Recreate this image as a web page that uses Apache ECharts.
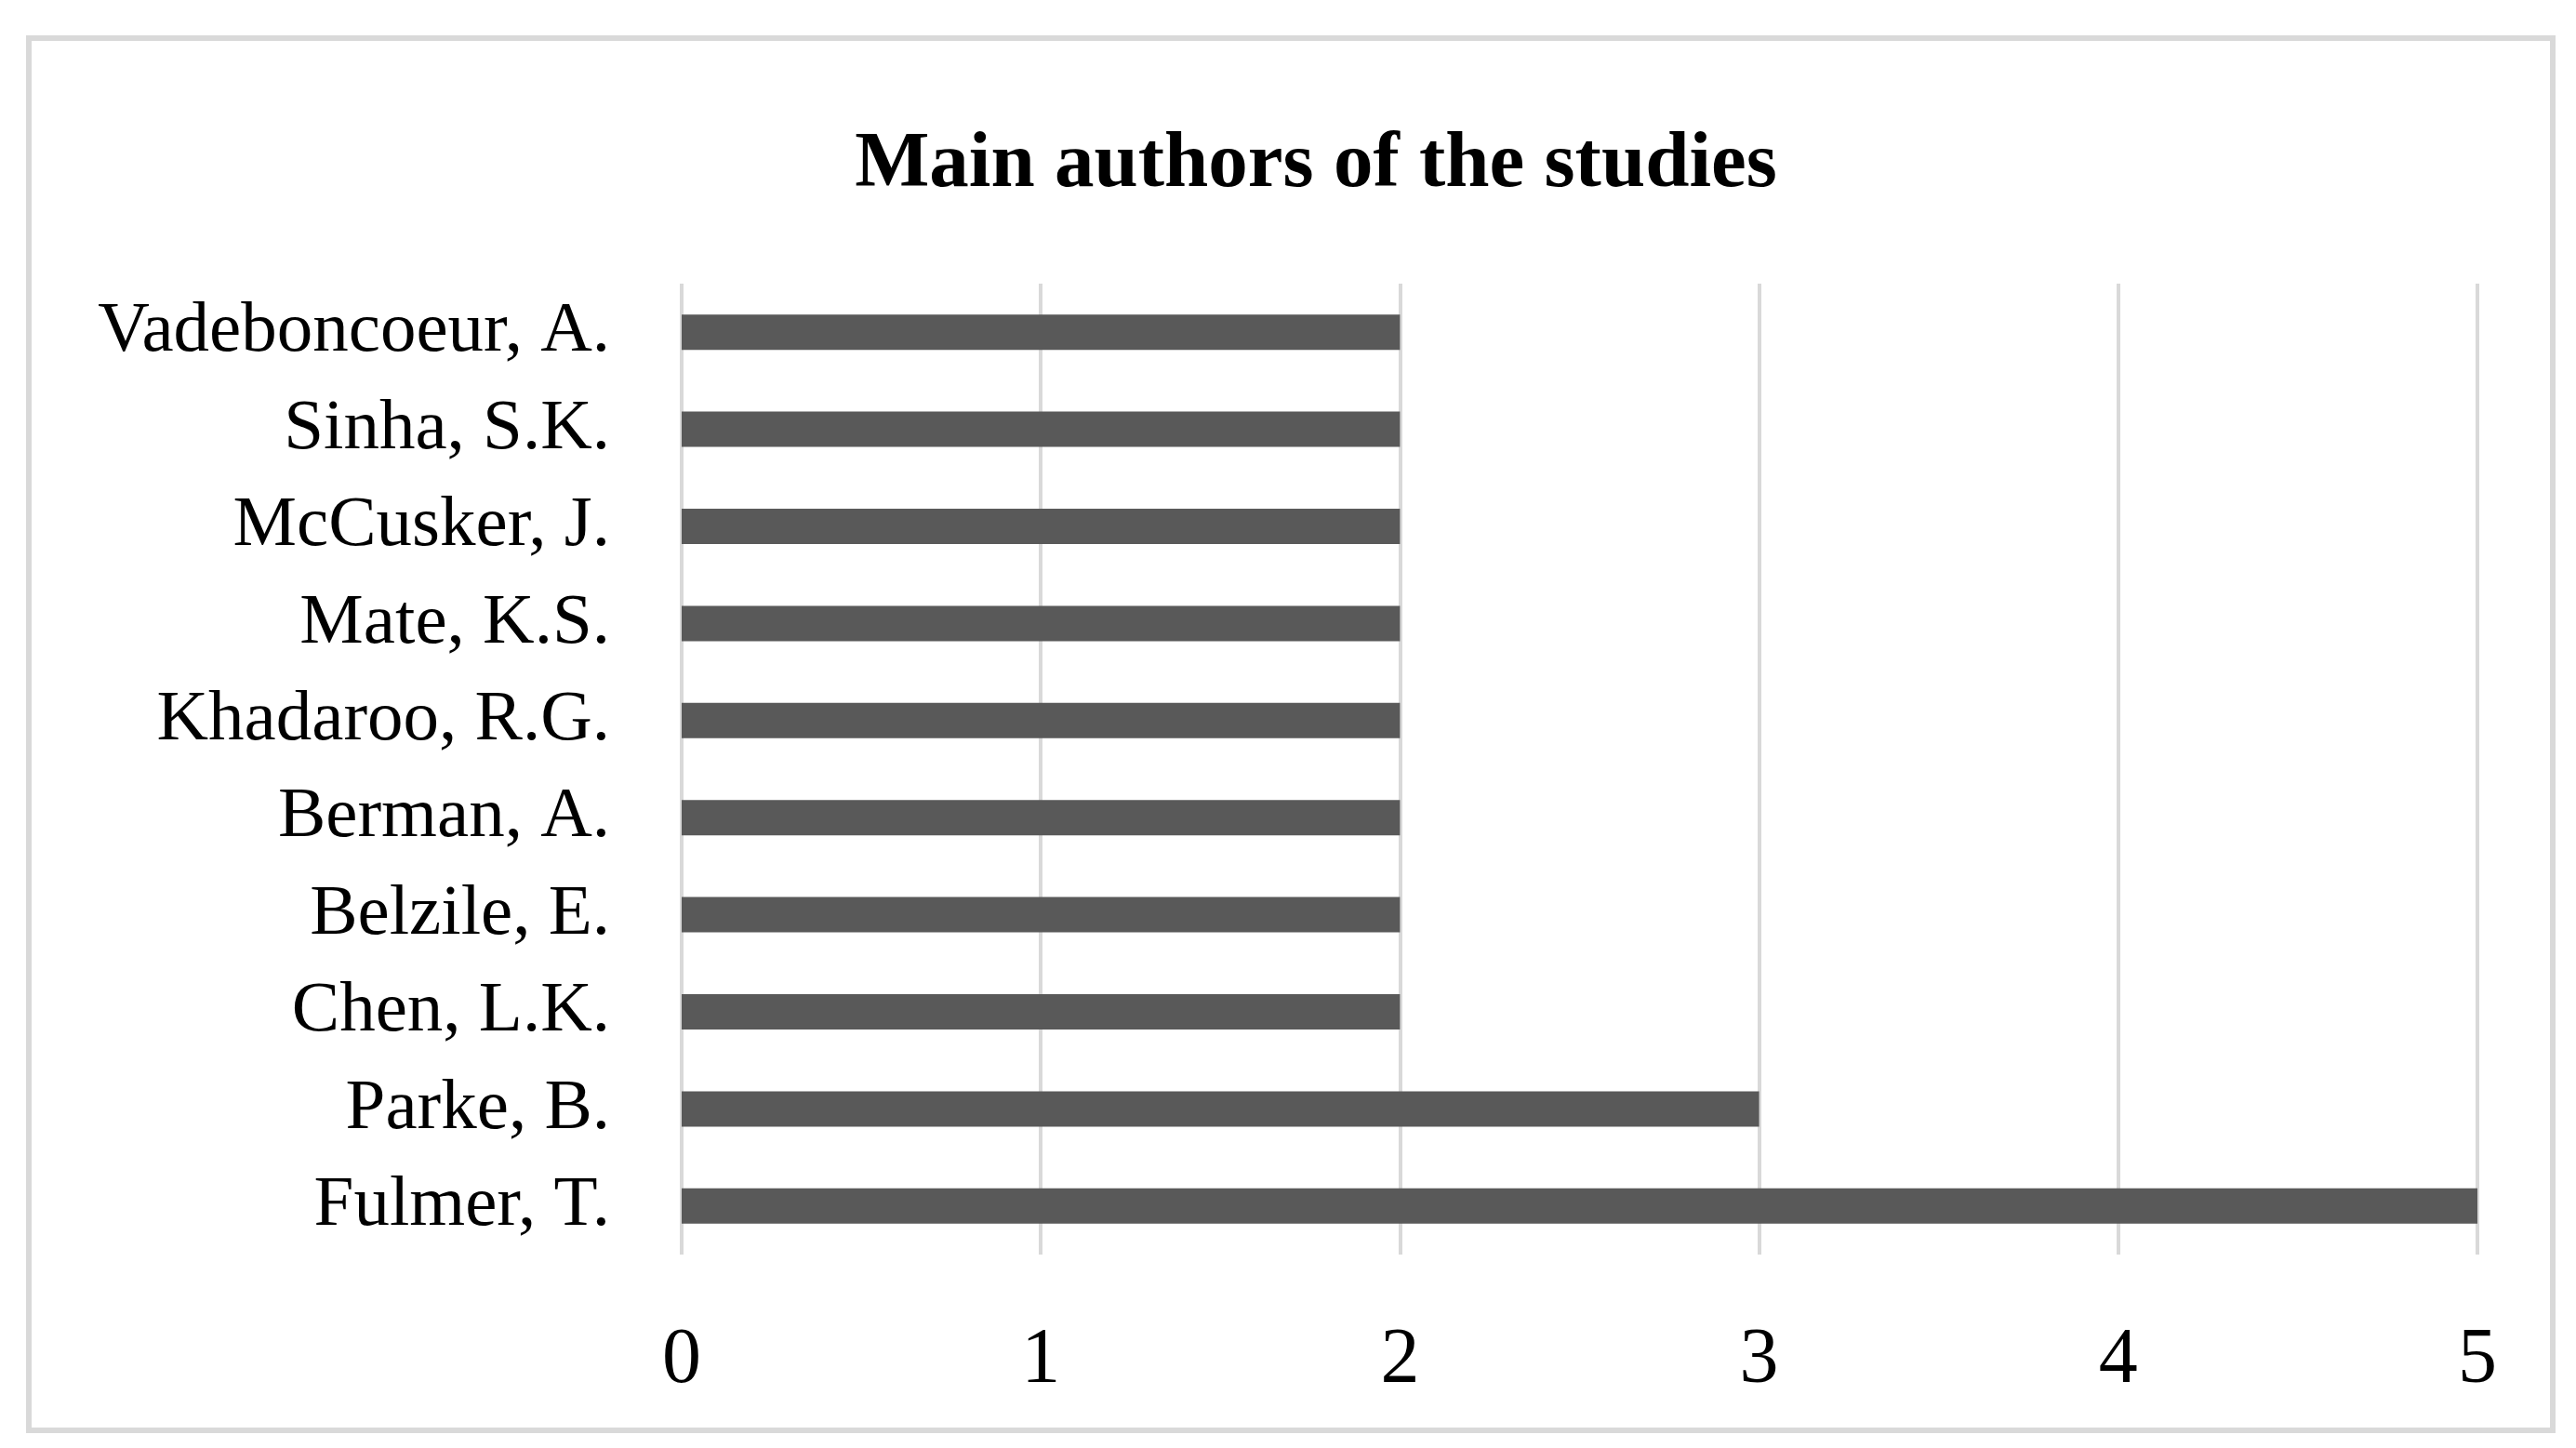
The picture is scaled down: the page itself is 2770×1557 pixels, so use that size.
<!DOCTYPE html>
<html>
<head>
<meta charset="utf-8">
<script src="https://cdn.jsdelivr.net/npm/echarts@6/dist/echarts.min.js"></script>
<style>
html,body{margin:0;padding:0;background:#fff;}
#chart{width:2770px;height:1557px;}
</style>
</head>
<body>
<div id="chart"></div>
<script>
const titleText = 'Main authors of the studies';
const authors = ['Vadeboncoeur, A.', 'Sinha, S.K.', 'McCusker, J.', 'Mate, K.S.', 'Khadaroo, R.G.', 'Berman, A.', 'Belzile, E.', 'Chen, L.K.', 'Parke, B.', 'Fulmer, T.'];
const studies = [2, 2, 2, 2, 2, 2, 2, 2, 3, 5];
const xTicks = [0, 1, 2, 3, 4, 5];

const chart = echarts.init(document.getElementById('chart'), null, {renderer: 'canvas'});
const serif = '"Liberation Serif", "DejaVu Serif", serif';
chart.setOption({
  backgroundColor: '#ffffff',
  animation: false,
  graphic: [{
    type: 'rect',
    shape: {x: 31, y: 41, width: 2714, height: 1497},
    style: {fill: 'none', stroke: '#d9d9d9', lineWidth: 6},
    z: -1
  }],
  title: {
    text: titleText,
    left: 1410,
    top: 131,
    textAlign: 'center',
    textStyle: {fontFamily: serif, fontWeight: 'bold', fontSize: 85, color: '#000'}
  },
  grid: {left: 733, right: 106, top: 305, bottom: 208, containLabel: false},
  xAxis: {
    type: 'value',
    min: xTicks[0],
    max: xTicks[xTicks.length - 1],
    interval: 1,
    axisLine: {show: false},
    axisTick: {show: false},
    splitLine: {show: true, lineStyle: {color: '#d9d9d9', width: 4}},
    axisLabel: {fontFamily: serif, fontSize: 84, color: '#000', margin: 73}
  },
  yAxis: {
    type: 'category',
    data: authors,
    inverse: true,
    axisLine: {show: false},
    axisTick: {show: false},
    splitLine: {show: false},
    axisLabel: {fontFamily: serif, fontSize: 77, color: '#000', margin: 77}
  },
  series: [{
    type: 'bar',
    data: studies,
    barWidth: 38,
    itemStyle: {color: '#595959'}
  }]
});
</script>
</body>
</html>
